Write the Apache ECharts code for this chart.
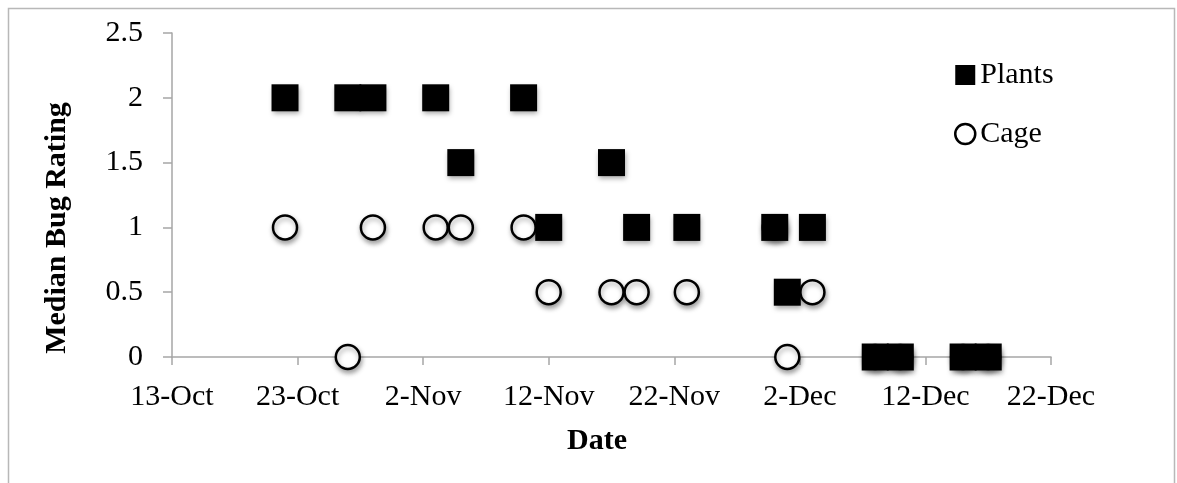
<!DOCTYPE html>
<html>
<head>
<meta charset="utf-8">
<title>Median Bug Rating</title>
<script src="https://cdn.jsdelivr.net/npm/echarts@6/dist/echarts.min.js"></script>
<style>
  html, body { margin: 0; padding: 0; background: #fff; }
  #chart { width: 1177px; height: 483px; }
</style>
</head>
<body>
<div id="chart"></div>
<script>
// Survey dates and median bug ratings
const plantDates = ['10-22', '10-27', '10-29', '11-03', '11-05', '11-10', '11-12', '11-17', '11-19', '11-23', '11-30', '12-01', '12-03', '12-08', '12-10', '12-15', '12-17'];
const plantRatings = [2, 2, 2, 2, 1.5, 2, 1, 1.5, 1, 1, 1, 0.5, 1, 0, 0, 0, 0];

const cageDates = ['10-22', '10-27', '10-29', '11-03', '11-05', '11-10', '11-12', '11-17', '11-19', '11-23', '11-30', '12-01', '12-03', '12-08', '12-10', '12-15', '12-17'];
const cageRatings = [1, 0, 1, 1, 1, 1, 0.5, 0.5, 0.5, 0.5, 1, 0, 0.5, 0, 0, 0, 0];

// Axis range: 13-Oct to 22-Dec in 10-day steps
const axisStart = '10-13';
const axisDays = 70;
const tickStepDays = 10;
const monthNames = ['Jan', 'Feb', 'Mar', 'Apr', 'May', 'Jun', 'Jul', 'Aug', 'Sep', 'Oct', 'Nov', 'Dec'];

const YEAR = 2012;
const DAY_MS = 86400000;
function toUTC(md) {
  const [m, d] = md.split('-').map(Number);
  return Date.UTC(YEAR, m - 1, d);
}
const startMs = toUTC(axisStart);
function dayOffset(md) { return Math.round((toUTC(md) - startMs) / DAY_MS); }
function dayLabel(offset) {
  const dt = new Date(startMs + offset * DAY_MS);
  return dt.getUTCDate() + '-' + monthNames[dt.getUTCMonth()];
}

const plantData = plantDates.map((d, i) => [dayOffset(d), plantRatings[i]]);
const cageData = cageDates.map((d, i) => [dayOffset(d), cageRatings[i]]);

const FONT = '"Liberation Serif", "Times New Roman", serif';
const AXIS_GRAY = '#a6a6a6';
const markShadow = {
  shadowBlur: 5,
  shadowOffsetX: 1,
  shadowOffsetY: 3,
  shadowColor: 'rgba(0,0,0,0.35)'
};
const noShadow = { shadowBlur: 0, shadowOffsetX: 0, shadowOffsetY: 0, shadowColor: 'transparent' };

const chart = echarts.init(document.getElementById('chart'), null, { renderer: 'canvas' });
chart.setOption({
  backgroundColor: '#ffffff',
  animation: false,
  graphic: [
    {
      type: 'rect',
      left: 6, top: 6,
      shape: { width: 1166, height: 500 },
      style: { fill: 'none', stroke: '#b8b8b8', lineWidth: 1.5 },
      silent: true,
      z: -1
    },
    {
      // y-axis title
      type: 'text',
      x: 57, y: 228,
      rotation: Math.PI / 2,
      style: {
        text: 'Median Bug Rating',
        font: 'bold 30px ' + FONT,
        fill: '#000',
        align: 'center',
        verticalAlign: 'middle'
      },
      silent: true
    },
    {
      // x-axis title
      type: 'text',
      x: 597, y: 441,
      style: {
        text: 'Date',
        font: 'bold 30px ' + FONT,
        fill: '#000',
        align: 'center',
        verticalAlign: 'middle'
      },
      silent: true
    }
  ],
  grid: { left: 172, right: 126, top: 33, bottom: 126, containLabel: false },
  legend: {
    orient: 'vertical',
    left: 954,
    top: 60,
    padding: 0,
    itemWidth: 20,
    itemHeight: 20,
    itemGap: 29,
    textStyle: { fontFamily: FONT, fontSize: 30, color: '#000' },
    data: [
      { name: 'Plants', icon: 'rect', itemStyle: Object.assign({ color: '#000', borderWidth: 0, opacity: 1 }, noShadow) },
      { name: 'Cage', icon: 'circle', itemStyle: Object.assign({ color: '#fff', borderColor: '#000', borderWidth: 2.5, opacity: 1 }, noShadow) }
    ]
  },
  xAxis: {
    type: 'value',
    min: 0,
    max: axisDays,
    interval: tickStepDays,
    axisLine: { show: true, onZero: false, lineStyle: { color: AXIS_GRAY, width: 1.5 } },
    axisTick: { show: true, inside: false, length: 8, lineStyle: { color: AXIS_GRAY, width: 1.5 } },
    splitLine: { show: false },
    axisLabel: {
      margin: 25,
      fontFamily: FONT, fontSize: 30, color: '#000',
      formatter: v => dayLabel(v)
    }
  },
  yAxis: {
    type: 'value',
    min: 0,
    max: 2.5,
    interval: 0.5,
    axisLine: { show: true, lineStyle: { color: AXIS_GRAY, width: 1.5 } },
    axisTick: { show: true, inside: false, length: 9, lineStyle: { color: AXIS_GRAY, width: 1.5 } },
    splitLine: { show: false },
    axisLabel: { margin: 29, fontFamily: FONT, fontSize: 30, color: '#000' }
  },
  series: [
    {
      name: 'Cage',
      type: 'scatter',
      symbol: 'circle',
      symbolSize: 24,
      z: 2,
      itemStyle: Object.assign({ color: '#fff', borderColor: '#000', borderWidth: 2.5, opacity: 1 }, markShadow),
      data: cageData
    },
    {
      name: 'Plants',
      type: 'scatter',
      symbol: 'rect',
      symbolSize: 27,
      z: 3,
      itemStyle: Object.assign({ color: '#000', opacity: 1 }, markShadow),
      data: plantData
    }
  ]
});
</script>
</body>
</html>
